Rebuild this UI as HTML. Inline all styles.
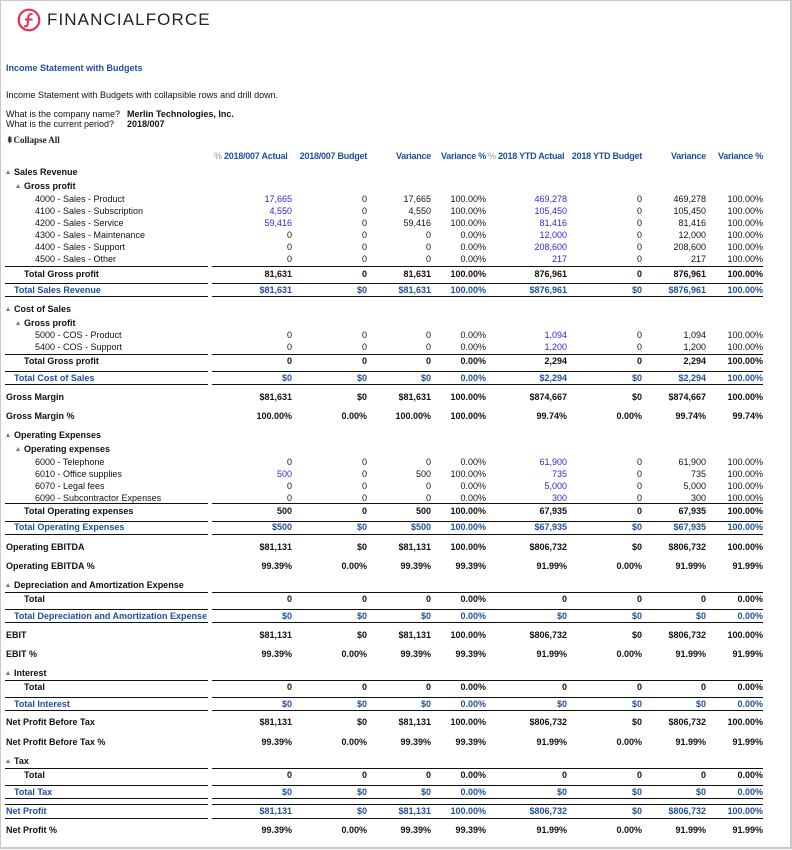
<!DOCTYPE html>
<html><head><meta charset="utf-8"><style>
*{margin:0;padding:0;box-sizing:border-box}
body{width:792px;height:850px;position:relative;background:#fff;font-family:"Liberation Sans",Arial,sans-serif;font-size:9px;color:#111;overflow:hidden}
.frame{position:absolute;left:0;top:0;width:792px;height:849px;border:1px solid #c8c8c8;border-right:2px solid #c8c8c8;border-bottom:2px solid #c8c8c8}
.t{position:absolute;white-space:nowrap;line-height:12px}
.r{position:absolute;left:0;width:792px;height:12px;line-height:12px;white-space:nowrap}
.r span{position:absolute;text-align:right}
.r .l{left:0;text-align:left}
.r span:nth-child(2){right:500px}.r span:nth-child(3){right:425px}.r span:nth-child(4){right:361px}.r span:nth-child(5){right:306px}
.r span:nth-child(6){right:225px}.r span:nth-child(7){right:150px}.r span:nth-child(8){right:86px}.r span:nth-child(9){right:29px}
.b{font-weight:bold}
.bl{color:#1f4f9a;font-weight:bold}
.lk{color:#2b2bd0}
.tri{display:inline-block;width:0;height:0;border-left:2.5px solid transparent;border-right:2.5px solid transparent;border-bottom:4px solid #6a7a96;margin-right:4px;vertical-align:1px}
.ln{position:absolute;height:1px;background:#111}
.hd{position:absolute;top:150px;color:#1f4f9a;font-weight:bold;line-height:12px;white-space:nowrap;letter-spacing:-0.25px}
</style></head><body>
<div class="frame"></div>
<svg style="position:absolute;left:17px;top:8px" width="24" height="24" viewBox="0 0 24 24"><circle cx="12" cy="12" r="10.3" fill="none" stroke="#e8304f" stroke-width="2.2"/><path d="M15.5 6.5c-2.5-1-4.2.3-4.3 3l-.4 6c-.2 2.5-1.8 3.5-4 2.5M8 11.5h7.5" fill="none" stroke="#e8304f" stroke-width="2"/></svg>
<div class="t" style="left:47px;top:10px;font-size:17px;line-height:20px;letter-spacing:1.1px;color:#222">FINANCIALFORCE</div>
<div class="t" style="left:6px;top:62px;color:#1f4f9a;font-weight:bold">Income Statement with Budgets</div>
<div class="t" style="left:6px;top:89px">Income Statement with Budgets with collapsible rows and drill down.</div>
<div class="t" style="left:6px;top:109px;line-height:10px">What is the company name?</div>
<div class="t" style="left:127px;top:109px;line-height:10px;font-weight:bold">Merlin Technologies, Inc.</div>
<div class="t" style="left:6px;top:119px;line-height:10px">What is the current period?</div>
<div class="t" style="left:127px;top:119px;line-height:10px;font-weight:bold">2018/007</div>
<div class="t" style="left:6px;top:134px;font-family:'Liberation Serif',serif;font-weight:bold;color:#222">⇞Collapse All</div>

<div class="hd" style="left:214px"><span style="color:#999;font-weight:normal">%</span> 2018/007 Actual</div>
<div class="hd" style="right:425px">2018/007 Budget</div>
<div class="hd" style="right:361px">Variance</div>
<div class="hd" style="right:306px">Variance %</div>
<div class="hd" style="left:488px"><span style="color:#999;font-weight:normal">%</span> 2018 YTD Actual</div>
<div class="hd" style="right:150px">2018 YTD Budget</div>
<div class="hd" style="right:86px">Variance</div>
<div class="hd" style="right:29px">Variance %</div>

<div class="r b" style="top:166px"><span class="l" style="left:6px"><i class="tri"></i>Sales Revenue</span></div>
<div class="r b" style="top:180px"><span class="l" style="left:16px"><i class="tri"></i>Gross profit</span></div>
<div class="r" style="top:193px"><span class="l" style="left:35px">4000 - Sales - Product</span><span class="lk">17,665</span><span>0</span><span>17,665</span><span>100.00%</span><span class="lk">469,278</span><span>0</span><span>469,278</span><span>100.00%</span></div>
<div class="r" style="top:205px"><span class="l" style="left:35px">4100 - Sales - Subscription</span><span class="lk">4,550</span><span>0</span><span>4,550</span><span>100.00%</span><span class="lk">105,450</span><span>0</span><span>105,450</span><span>100.00%</span></div>
<div class="r" style="top:217px"><span class="l" style="left:35px">4200 - Sales - Service</span><span class="lk">59,416</span><span>0</span><span>59,416</span><span>100.00%</span><span class="lk">81,416</span><span>0</span><span>81,416</span><span>100.00%</span></div>
<div class="r" style="top:229px"><span class="l" style="left:35px">4300 - Sales - Maintenance</span><span>0</span><span>0</span><span>0</span><span>0.00%</span><span class="lk">12,000</span><span>0</span><span>12,000</span><span>100.00%</span></div>
<div class="r" style="top:241px"><span class="l" style="left:35px">4400 - Sales - Support</span><span>0</span><span>0</span><span>0</span><span>0.00%</span><span class="lk">208,600</span><span>0</span><span>208,600</span><span>100.00%</span></div>
<div class="r" style="top:253px"><span class="l" style="left:35px">4500 - Sales - Other</span><span>0</span><span>0</span><span>0</span><span>0.00%</span><span class="lk">217</span><span>0</span><span>217</span><span>100.00%</span></div>
<div class="r b" style="top:268px"><span class="l" style="left:24px">Total Gross profit</span><span>81,631</span><span>0</span><span>81,631</span><span>100.00%</span><span>876,961</span><span>0</span><span>876,961</span><span>100.00%</span></div>
<div class="r bl" style="top:284px"><span class="l" style="left:14px">Total Sales Revenue</span><span>$81,631</span><span>$0</span><span>$81,631</span><span>100.00%</span><span>$876,961</span><span>$0</span><span>$876,961</span><span>100.00%</span></div>

<div class="r b" style="top:303px"><span class="l" style="left:6px"><i class="tri"></i>Cost of Sales</span></div>
<div class="r b" style="top:317px"><span class="l" style="left:16px"><i class="tri"></i>Gross profit</span></div>
<div class="r" style="top:329px"><span class="l" style="left:35px">5000 - COS - Product</span><span>0</span><span>0</span><span>0</span><span>0.00%</span><span class="lk">1,094</span><span>0</span><span>1,094</span><span>100.00%</span></div>
<div class="r" style="top:341px"><span class="l" style="left:35px">5400 - COS - Support</span><span>0</span><span>0</span><span>0</span><span>0.00%</span><span class="lk">1,200</span><span>0</span><span>1,200</span><span>100.00%</span></div>
<div class="r b" style="top:355px"><span class="l" style="left:24px">Total Gross profit</span><span>0</span><span>0</span><span>0</span><span>0.00%</span><span>2,294</span><span>0</span><span>2,294</span><span>100.00%</span></div>
<div class="r bl" style="top:372px"><span class="l" style="left:14px">Total Cost of Sales</span><span>$0</span><span>$0</span><span>$0</span><span>0.00%</span><span>$2,294</span><span>$0</span><span>$2,294</span><span>100.00%</span></div>
<div class="r b" style="top:391px"><span class="l" style="left:6px">Gross Margin</span><span>$81,631</span><span>$0</span><span>$81,631</span><span>100.00%</span><span>$874,667</span><span>$0</span><span>$874,667</span><span>100.00%</span></div>
<div class="r b" style="top:410px"><span class="l" style="left:6px">Gross Margin %</span><span>100.00%</span><span>0.00%</span><span>100.00%</span><span>100.00%</span><span>99.74%</span><span>0.00%</span><span>99.74%</span><span>99.74%</span></div>

<div class="r b" style="top:429px"><span class="l" style="left:6px"><i class="tri"></i>Operating Expenses</span></div>
<div class="r b" style="top:443px"><span class="l" style="left:16px"><i class="tri"></i>Operating expenses</span></div>
<div class="r" style="top:456px"><span class="l" style="left:35px">6000 - Telephone</span><span>0</span><span>0</span><span>0</span><span>0.00%</span><span class="lk">61,900</span><span>0</span><span>61,900</span><span>100.00%</span></div>
<div class="r" style="top:468px"><span class="l" style="left:35px">6010 - Office supplies</span><span class="lk">500</span><span>0</span><span>500</span><span>100.00%</span><span class="lk">735</span><span>0</span><span>735</span><span>100.00%</span></div>
<div class="r" style="top:480px"><span class="l" style="left:35px">6070 - Legal fees</span><span>0</span><span>0</span><span>0</span><span>0.00%</span><span class="lk">5,000</span><span>0</span><span>5,000</span><span>100.00%</span></div>
<div class="r" style="top:492px"><span class="l" style="left:35px">6090 - Subcontractor Expenses</span><span>0</span><span>0</span><span>0</span><span>0.00%</span><span class="lk">300</span><span>0</span><span>300</span><span>100.00%</span></div>
<div class="r b" style="top:505px"><span class="l" style="left:24px">Total Operating expenses</span><span>500</span><span>0</span><span>500</span><span>100.00%</span><span>67,935</span><span>0</span><span>67,935</span><span>100.00%</span></div>
<div class="r bl" style="top:521px"><span class="l" style="left:14px">Total Operating Expenses</span><span>$500</span><span>$0</span><span>$500</span><span>100.00%</span><span>$67,935</span><span>$0</span><span>$67,935</span><span>100.00%</span></div>
<div class="r b" style="top:541px"><span class="l" style="left:6px">Operating EBITDA</span><span>$81,131</span><span>$0</span><span>$81,131</span><span>100.00%</span><span>$806,732</span><span>$0</span><span>$806,732</span><span>100.00%</span></div>
<div class="r b" style="top:560px"><span class="l" style="left:6px">Operating EBITDA %</span><span>99.39%</span><span>0.00%</span><span>99.39%</span><span>99.39%</span><span>91.99%</span><span>0.00%</span><span>91.99%</span><span>91.99%</span></div>

<div class="r b" style="top:579px"><span class="l" style="left:6px"><i class="tri"></i>Depreciation and Amortization Expense</span></div>
<div class="r b" style="top:593px"><span class="l" style="left:24px">Total</span><span>0</span><span>0</span><span>0</span><span>0.00%</span><span>0</span><span>0</span><span>0</span><span>0.00%</span></div>
<div class="r bl" style="top:610px"><span class="l" style="left:14px">Total Depreciation and Amortization Expense</span><span>$0</span><span>$0</span><span>$0</span><span>0.00%</span><span>$0</span><span>$0</span><span>$0</span><span>0.00%</span></div>
<div class="r b" style="top:629px"><span class="l" style="left:6px">EBIT</span><span>$81,131</span><span>$0</span><span>$81,131</span><span>100.00%</span><span>$806,732</span><span>$0</span><span>$806,732</span><span>100.00%</span></div>
<div class="r b" style="top:648px"><span class="l" style="left:6px">EBIT %</span><span>99.39%</span><span>0.00%</span><span>99.39%</span><span>99.39%</span><span>91.99%</span><span>0.00%</span><span>91.99%</span><span>91.99%</span></div>

<div class="r b" style="top:667px"><span class="l" style="left:6px"><i class="tri"></i>Interest</span></div>
<div class="r b" style="top:681px"><span class="l" style="left:24px">Total</span><span>0</span><span>0</span><span>0</span><span>0.00%</span><span>0</span><span>0</span><span>0</span><span>0.00%</span></div>
<div class="r bl" style="top:698px"><span class="l" style="left:14px">Total Interest</span><span>$0</span><span>$0</span><span>$0</span><span>0.00%</span><span>$0</span><span>$0</span><span>$0</span><span>0.00%</span></div>
<div class="r b" style="top:716px"><span class="l" style="left:6px">Net Profit Before Tax</span><span>$81,131</span><span>$0</span><span>$81,131</span><span>100.00%</span><span>$806,732</span><span>$0</span><span>$806,732</span><span>100.00%</span></div>
<div class="r b" style="top:736px"><span class="l" style="left:6px">Net Profit Before Tax %</span><span>99.39%</span><span>0.00%</span><span>99.39%</span><span>99.39%</span><span>91.99%</span><span>0.00%</span><span>91.99%</span><span>91.99%</span></div>

<div class="r b" style="top:755px"><span class="l" style="left:6px"><i class="tri"></i>Tax</span></div>
<div class="r b" style="top:769px"><span class="l" style="left:24px">Total</span><span>0</span><span>0</span><span>0</span><span>0.00%</span><span>0</span><span>0</span><span>0</span><span>0.00%</span></div>
<div class="r bl" style="top:786px"><span class="l" style="left:14px">Total Tax</span><span>$0</span><span>$0</span><span>$0</span><span>0.00%</span><span>$0</span><span>$0</span><span>$0</span><span>0.00%</span></div>
<div class="r bl" style="top:805px"><span class="l" style="left:6px">Net Profit</span><span>$81,131</span><span>$0</span><span>$81,131</span><span>100.00%</span><span>$806,732</span><span>$0</span><span>$806,732</span><span>100.00%</span></div>
<div class="r b" style="top:824px"><span class="l" style="left:6px">Net Profit %</span><span>99.39%</span><span>0.00%</span><span>99.39%</span><span>99.39%</span><span>91.99%</span><span>0.00%</span><span>91.99%</span><span>91.99%</span></div>

<div class="ln" style="left:5px;width:203px;top:266px"></div><div class="ln" style="left:212px;width:551px;top:266px"></div>
<div class="ln" style="left:5px;width:203px;top:283px"></div><div class="ln" style="left:212px;width:551px;top:283px"></div>
<div class="ln" style="left:5px;width:203px;top:296px"></div><div class="ln" style="left:212px;width:551px;top:296px"></div>
<div class="ln" style="left:5px;width:203px;top:354px"></div><div class="ln" style="left:212px;width:551px;top:354px"></div>
<div class="ln" style="left:5px;width:203px;top:371px"></div><div class="ln" style="left:212px;width:551px;top:371px"></div>
<div class="ln" style="left:5px;width:203px;top:384px"></div><div class="ln" style="left:212px;width:551px;top:384px"></div>
<div class="ln" style="left:5px;width:203px;top:503px"></div><div class="ln" style="left:212px;width:551px;top:503px"></div>
<div class="ln" style="left:5px;width:203px;top:521px"></div><div class="ln" style="left:212px;width:551px;top:521px"></div>
<div class="ln" style="left:5px;width:203px;top:534px"></div><div class="ln" style="left:212px;width:551px;top:534px"></div>
<div class="ln" style="left:5px;width:203px;top:592px"></div><div class="ln" style="left:212px;width:551px;top:592px"></div>
<div class="ln" style="left:5px;width:203px;top:609px"></div><div class="ln" style="left:212px;width:551px;top:609px"></div>
<div class="ln" style="left:5px;width:203px;top:622px"></div><div class="ln" style="left:212px;width:551px;top:622px"></div>
<div class="ln" style="left:5px;width:203px;top:680px"></div><div class="ln" style="left:212px;width:551px;top:680px"></div>
<div class="ln" style="left:5px;width:203px;top:697px"></div><div class="ln" style="left:212px;width:551px;top:697px"></div>
<div class="ln" style="left:5px;width:203px;top:710px"></div><div class="ln" style="left:212px;width:551px;top:710px"></div>
<div class="ln" style="left:5px;width:203px;top:768px"></div><div class="ln" style="left:212px;width:551px;top:768px"></div>
<div class="ln" style="left:5px;width:203px;top:785px"></div><div class="ln" style="left:212px;width:551px;top:785px"></div>
<div class="ln" style="left:5px;width:203px;top:798px"></div><div class="ln" style="left:212px;width:551px;top:798px"></div>
<div class="ln" style="left:5px;width:203px;top:804px"></div><div class="ln" style="left:212px;width:551px;top:804px"></div>
<div class="ln" style="left:5px;width:203px;top:818px"></div><div class="ln" style="left:212px;width:551px;top:818px"></div>
</body></html>
